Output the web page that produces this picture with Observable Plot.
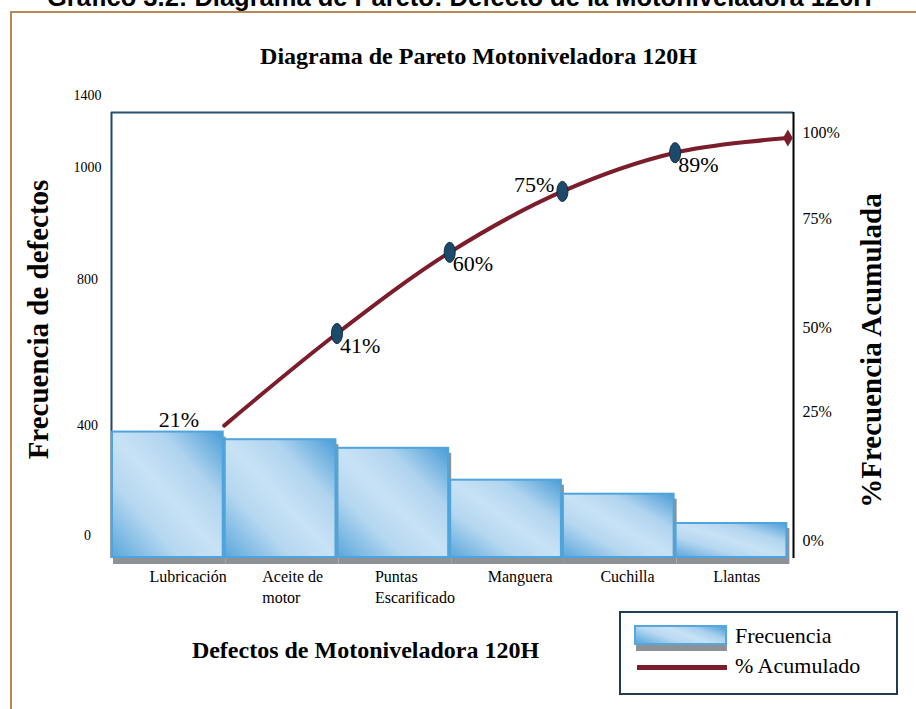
<!DOCTYPE html>
<html>
<head>
<meta charset="utf-8">
<script src="https://cdn.jsdelivr.net/npm/d3@7"></script>
<script src="https://cdn.jsdelivr.net/npm/@observablehq/plot@0.6"></script>
<style>
  body { margin: 0; background: #fff; }
  #wrap { position: relative; width: 916px; height: 709px; overflow: hidden; background: #fff; }
  #header { position: absolute; left: 47px; top: -17px; line-height: 26px; white-space: nowrap;
            font: bold 25.5px "Liberation Sans", Arial, sans-serif; color: #000; }
  #border { position: absolute; left: 10px; top: 11px; width: 960px; height: 760px;
            border-left: 2px solid #b38a58; border-top: 2px solid #b38a58; }
  #chart { position: absolute; left: 0; top: 0; }
  #legend { position: absolute; left: 619px; top: 611px; width: 275px; height: 80px;
            border: 2px solid #233c54; background: #fff; font-family: "Liberation Serif", "Times New Roman", serif; }
  #legend .sw { position: absolute; left: 13px; top: 12px; width: 89px; height: 16px; border: 2px solid #55a8de;
            background: linear-gradient(20deg, #5aa7dc 0%, #b8d9f1 35%, #c8e2f5 55%, #a9d0ee 75%, #4c9fd8 100%); }
  #legend .sh { position: absolute; left: 15px; top: 32px; width: 91px; height: 6px; background: #8e9297; }
  #legend .ln { position: absolute; left: 16px; top: 52px; width: 90px; height: 5px; background: #7b1d2b; }
  #legend .t { position: absolute; left: 114px; font-size: 22px; line-height: 22px; color: #000; white-space: nowrap; }
</style>
</head>
<body>
<div id="wrap">
  <div id="header">Gráfico 3.2: Diagrama de Pareto: Defecto de la Motoniveladora 120H</div>
  <div id="border"></div>
  <div id="chart"></div>
  <div id="legend">
    <div class="sh"></div>
    <div class="sw"></div>
    <div class="t" style="top:12px">Frecuencia</div>
    <div class="ln"></div>
    <div class="t" style="top:42px">% Acumulado</div>
  </div>
</div>
<script>
// ---- data ----
const categories = ["Lubricación", "Aceite de\nmotor", "Puntas\nEscarificado", "Manguera", "Cuchilla", "Llantas"];
const frequencies = [400, 376, 349, 249, 205, 113];
// cumulative line as drawn (percent of the right axis)
const cumulativeDrawn = [31.6, 53.5, 72.8, 87.3, 96.5, 100];
const cumulativeLabels = ["21%", "41%", "60%", "75%", "89%", "100%"];
// left axis labels and where they sit (frequency units)
const leftTickLabels = ["0", "400", "800", "1000", "1400"];
const leftTickValues = [72, 417, 876, 1227, 1453];
// right axis labels and where they sit (percent units)
const rightTickLabels = ["0%", "25%", "50%", "75%", "100%"];
const rightTickValues = [4.3, 34.9, 54.9, 80.8, 101.3];

const yMax = 1400;
const xMax = 6.05;
const pctToFreq = 1320 / 100;

const bars = categories.map((c, i) => ({i, cat: c, freq: frequencies[i]}));
const points = cumulativeDrawn.map((p, i) => ({i, pct: p, label: cumulativeLabels[i]}));
const leftTicks = leftTickLabels.map((t, i) => ({t, v: leftTickValues[i]}));
const rightTicks = rightTickLabels.map((t, i) => ({t, v: rightTickValues[i]}));

const px = d => d.i + 1;
const py = d => d.pct * pctToFreq;

const ellipse = {
  draw(c) {
    const rx = 5.5, ry = 10, k = 0.5523;
    c.moveTo(rx, 0);
    c.bezierCurveTo(rx, ry * k, rx * k, ry, 0, ry);
    c.bezierCurveTo(-rx * k, ry, -rx, ry * k, -rx, 0);
    c.bezierCurveTo(-rx, -ry * k, -rx * k, -ry, 0, -ry);
    c.bezierCurveTo(rx * k, -ry, rx, -ry * k, rx, 0);
    c.closePath();
  }
};

const serif = '"Liberation Serif", "Times New Roman", serif';

const plot = Plot.plot({
  width: 916,
  height: 709,
  marginLeft: 111,
  marginRight: 123,
  marginTop: 112,
  marginBottom: 151,
  x: {type: "linear", domain: [0, xMax], axis: null},
  y: {domain: [0, yMax], axis: null},
  style: {fontFamily: serif, background: "transparent", overflow: "visible", color: "#000"},
  marks: [
    // frame lines
    Plot.ruleY([yMax], {stroke: "#2b516f", strokeWidth: 2}),
    Plot.ruleX([0], {stroke: "#1f4866", strokeWidth: 2}),
    Plot.ruleX([xMax], {stroke: "#000", strokeWidth: 2}),
    // bar shadows
    Plot.rectY(bars, {x1: "i", x2: d => d.i + 1, y: "freq", fill: "#8e9297", dx: 2, dy: 6}),
    // bars
    Plot.rectY(bars, {x1: "i", x2: d => d.i + 1, y: "freq", fill: "url(#barGrad)", stroke: "#4fa4dc", strokeWidth: 2, inset: 1}),
    // category labels
    Plot.text(bars, {x: "i", y: 0, text: "cat", textAnchor: "start", lineAnchor: "top", dx: 38, dy: 8,
                     fontSize: 16, lineHeight: 1.35, fill: "#000"}),
    // cumulative line
    Plot.line(points, {x: px, y: py, curve: "catmull-rom", stroke: "#7b1d2b", strokeWidth: 4}),
    Plot.dot(points.slice(1, 5), {x: px, y: py, symbol: ellipse, fill: "#1c4a6b", stroke: "#0d2b42", strokeWidth: 1}),
    Plot.dot(points.slice(5), {x: px, y: py, symbol: "diamond", r: 5.2, fill: "#7b1d2b"}),
    // cumulative labels
    Plot.text(points.slice(0, 1), {x: d => d.i + 0.5, y: () => frequencies[0], text: "label", dx: 11, dy: -11, fontSize: 22}),
    Plot.text(points.filter(d => [1, 2, 4].includes(d.i)), {x: px, y: py, text: "label", textAnchor: "start", dx: 3, dy: 12, fontSize: 22}),
    Plot.text(points.filter(d => d.i === 3), {x: px, y: py, text: "label", textAnchor: "end", dx: -8, dy: -6, fontSize: 22}),
    // left tick labels
    Plot.text(leftTicks, {y: "v", text: "t", frameAnchor: "left", dx: -24, textAnchor: "middle", fontSize: 14}),
    // right tick labels
    Plot.text(rightTicks, {y: d => d.v * pctToFreq, text: "t", frameAnchor: "right", dx: 9, textAnchor: "start", fontSize: 16}),
    // titles
    Plot.text(["Diagrama de Pareto Motoniveladora 120H"], {frameAnchor: "top", lineAnchor: "middle", textAnchor: "middle",
              dx: 26, dy: -56, fontSize: 24, fontWeight: "bold"}),
    Plot.text(["Frecuencia de defectos"], {frameAnchor: "left", rotate: -90, lineAnchor: "middle", textAnchor: "middle",
              dx: -73, dy: -16, fontSize: 29, fontWeight: "bold"}),
    Plot.text(["%Frecuencia Acumulada"], {frameAnchor: "right", rotate: -90, lineAnchor: "middle", textAnchor: "middle",
              dx: 78, dy: 15, fontSize: 29, fontWeight: "bold"}),
    Plot.text(["Defectos de Motoniveladora 120H"], {frameAnchor: "bottom", lineAnchor: "middle", textAnchor: "middle",
              dx: -87, dy: 92, fontSize: 24, fontWeight: "bold"})
  ]
});

d3.select(plot).insert("defs", ":first-child").html(`
  <linearGradient id="barGrad" x1="0" y1="1" x2="1" y2="0">
    <stop offset="0" stop-color="#5aa7dc"/>
    <stop offset="0.3" stop-color="#b5d7f0"/>
    <stop offset="0.5" stop-color="#c8e2f5"/>
    <stop offset="0.72" stop-color="#b0d4ef"/>
    <stop offset="1" stop-color="#4a9dd7"/>
  </linearGradient>`);

document.getElementById("chart").appendChild(plot);
</script>
</body>
</html>
